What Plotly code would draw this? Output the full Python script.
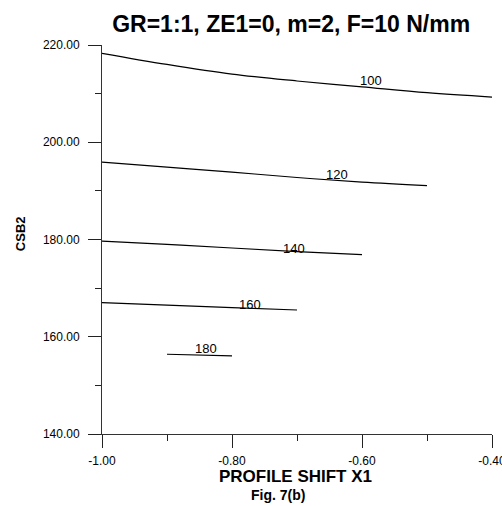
import plotly.graph_objects as go

FONT = "Liberation Sans, Arial, sans-serif"

# Curves (contour lines)
x_100 = [-1.0, -0.9, -0.8, -0.7, -0.6, -0.5, -0.4]
y_100 = [218.3, 216.0, 214.0, 212.6, 211.4, 210.2, 209.3]

x_120 = [-1.0, -0.9, -0.8, -0.7, -0.6, -0.5]
y_120 = [195.9, 194.9, 193.85, 192.75, 191.8, 191.1]

x_140 = [-1.0, -0.9, -0.8, -0.7, -0.6]
y_140 = [179.65, 179.0, 178.25, 177.5, 176.9]

x_160 = [-1.0, -0.9, -0.8, -0.7]
y_160 = [167.0, 166.5, 166.0, 165.5]

x_180 = [-0.9, -0.8]
y_180 = [156.4, 156.05]

curve_names = ["100", "120", "140", "160", "180"]
label_x = [-0.586, -0.638, -0.704, -0.773, -0.840]
label_y = [212.8, 193.33, 178.15, 166.67, 157.54]

x_tickvals = [-1.0, -0.8, -0.6, -0.4]
x_ticktext = ["-1.00", "-0.80", "-0.60", "-0.40"]
y_tickvals = [140, 160, 180, 200, 220]
y_ticktext = ["140.00", "160.00", "180.00", "200.00", "220.00"]

title_text = "GR=1:1, ZE1=0, m=2, F=10 N/mm"
x_title = "PROFILE SHIFT X1"
y_title = "CSB2"
caption = "Fig. 7(b)"

fig = go.Figure()
for xs, ys, nm in zip([x_100, x_120, x_140, x_160, x_180],
                      [y_100, y_120, y_140, y_160, y_180], curve_names):
    fig.add_trace(go.Scatter(x=xs, y=ys, mode="lines", name=nm,
                             line=dict(color="black", width=1.2, shape="spline"),
                             showlegend=False, hoverinfo="skip"))

for lx, ly, nm in zip(label_x, label_y, curve_names):
    fig.add_annotation(x=lx, y=ly, text=nm, showarrow=False,
                       xanchor="center", yanchor="middle",
                       font=dict(family=FONT, size=13, color="black"))

fig.add_annotation(xref="paper", yref="paper", x=0.4956, y=-0.1097, text=x_title,
                   showarrow=False, xanchor="center", yanchor="middle",
                   font=dict(family=FONT, size=17, color="black", weight="bold"))
fig.add_annotation(xref="paper", yref="paper", x=0.452, y=-0.156, text=caption,
                   showarrow=False, xanchor="center", yanchor="middle",
                   font=dict(family=FONT, size=14, color="black", weight="bold"))
fig.add_annotation(xref="paper", yref="paper", x=-0.207, y=0.5145, text=y_title,
                   showarrow=False, xanchor="center", yanchor="middle", textangle=-90,
                   font=dict(family=FONT, size=13, color="black", weight="bold"))

axis_common = dict(showline=True, linecolor="#333", linewidth=1, mirror=False,
                   ticks="outside", ticklen=13, tickwidth=1, tickcolor="#222",
                   showgrid=False, zeroline=False, automargin=False,
                   ticklabeloverflow="allow",
                   tickfont=dict(family=FONT, size=12, color="black"))

fig.update_xaxes(range=[-1.0, -0.4], tickvals=x_tickvals, ticktext=x_ticktext,
                 minor=dict(ticks="outside", ticklen=6, tickwidth=1, tickcolor="#222",
                            dtick=0.1, tick0=-1.0, showgrid=False),
                 ticklabelstandoff=3,
                 **axis_common)
fig.update_yaxes(range=[140, 220], tickvals=y_tickvals, ticktext=y_ticktext,
                 minor=dict(ticks="outside", ticklen=6, tickwidth=1, tickcolor="#222",
                            dtick=10, tick0=140, showgrid=False),
                 ticklabelstandoff=6,
                 **axis_common)

fig.update_layout(
    width=502, height=506,
    margin=dict(l=102, r=10, t=45, b=72),
    paper_bgcolor="white", plot_bgcolor="white",
    title=dict(text=title_text, xref="container", x=0.58, xanchor="center",
               yref="container", y=1 - 24 / 506, yanchor="middle",
               font=dict(family=FONT, size=23, color="black", weight="bold")),
)

fig.write_html(
    "out.html",
    config={"displayModeBar": False},
    post_script="document.body.style.margin='0';document.body.style.overflow='hidden';",
)
